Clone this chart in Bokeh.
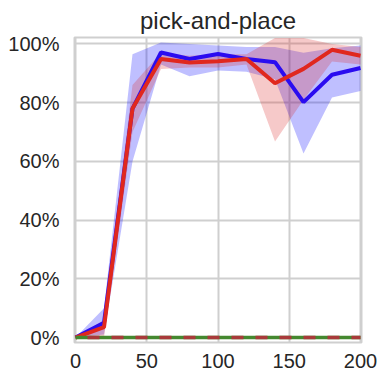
from bokeh.plotting import figure
from bokeh.embed import file_html
from bokeh.resources import INLINE
from bokeh.models import NumeralTickFormatter, FixedTicker, Range1d

steps = [0, 20, 40, 60, 80, 100, 120, 140, 160, 180, 200]
blue = [0.0, 0.05, 0.78, 0.971, 0.949, 0.966, 0.949, 0.938, 0.802, 0.895, 0.918]
blue_hi = [0.0, 0.10, 0.965, 1.005, 1.0, 0.995, 0.99, 0.99, 0.97, 0.985, 0.995]
blue_lo = [0.0, 0.01, 0.60, 0.93, 0.89, 0.91, 0.905, 0.88, 0.627, 0.818, 0.84]
red = [0.0, 0.035, 0.78, 0.949, 0.937, 0.941, 0.949, 0.866, 0.915, 0.98, 0.96]
red_hi = [0.0, 0.06, 0.86, 0.97, 0.96, 0.965, 0.965, 1.02, 1.02, 1.0, 0.99]
red_lo = [0.0, 0.0, 0.70, 0.915, 0.92, 0.92, 0.93, 0.668, 0.81, 0.94, 0.93]
zero_x = [0, 200]
zero_y = [0.0, 0.0]
x_ticks = [0, 50, 100, 150, 200]
y_ticks = [0.0, 0.2, 0.4, 0.6, 0.8, 1.0]

FONT = "Liberation Sans"
TXT = "#262626"
GRID = "#cfcfcf"

p = figure(frame_width=287, frame_height=305, output_backend="svg", toolbar_location=None,
           x_range=Range1d(-0.7, 200.7), y_range=Range1d(-0.017, 1.022),
           min_border_left=74, min_border_right=17, min_border_top=37, min_border_bottom=31)

p.title.text = "pick-and-place"
p.title.align = "center"
p.title.text_font = FONT
p.title.text_font_size = "24px"
p.title.text_font_style = "normal"
p.title.text_color = TXT
p.title.standoff = 7

p.varea(x=steps, y1=blue_lo, y2=blue_hi, fill_color="#0000ff", fill_alpha=0.25)
p.varea(x=steps, y1=red_lo, y2=red_hi, fill_color="#dc2828", fill_alpha=0.25)
p.line(steps, blue, line_color="#2a0cf0", line_width=4)
p.line(steps, red, line_color="#e0281e", line_width=4)
p.line(zero_x, zero_y, line_color="#44882f", line_width=3.5)
p.line(zero_x, zero_y, line_color="#a83a3a", line_width=3.5, line_dash="12 12", line_dash_offset=-12)

p.outline_line_color = GRID
p.outline_line_width = 2
for g in (p.xgrid, p.ygrid):
    g.grid_line_color = GRID
    g.grid_line_width = 2
p.xgrid.ticker = FixedTicker(ticks=x_ticks)
p.ygrid.ticker = FixedTicker(ticks=y_ticks)

for ax in (p.xaxis[0], p.yaxis[0]):
    ax.axis_line_color = None
    ax.major_tick_line_color = None
    ax.minor_tick_line_color = None
    ax.major_tick_out = 0
    ax.major_tick_in = 0
    ax.minor_tick_out = 0
    ax.minor_tick_in = 0
    ax.major_label_text_font = FONT
    ax.major_label_text_font_size = "20px"
    ax.major_label_text_color = TXT
p.xaxis[0].ticker = FixedTicker(ticks=x_ticks)
p.yaxis[0].ticker = FixedTicker(ticks=y_ticks)
p.yaxis[0].formatter = NumeralTickFormatter(format="0%")
p.xaxis[0].major_label_text_line_height = 1.0
p.xaxis[0].major_label_standoff = 11
p.yaxis[0].major_label_standoff = 15

open("out.html", "w").write(file_html(p, INLINE))
